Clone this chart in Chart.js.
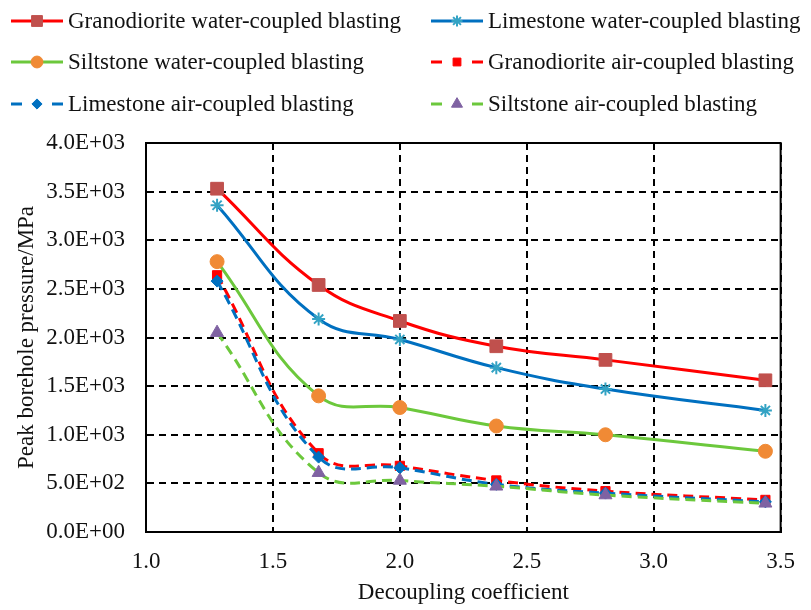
<!DOCTYPE html>
<html>
<head>
<meta charset="utf-8">
<script src="https://cdn.jsdelivr.net/npm/chart.js@4.4.1/dist/chart.umd.min.js"></script>
<style>
  body { margin: 0; background: #fff; }
  #wrap { width: 811px; height: 610px; }
</style>
</head>
<body>
<div id="wrap"><canvas id="myChart" width="811" height="610"></canvas></div>
<script>
// values
const decoupling = [1.28, 1.68, 2.0, 2.38, 2.81, 3.44];
const seriesNames = [
    'Granodiorite water-coupled blasting',
    'Limestone water-coupled blasting',
    'Siltstone water-coupled blasting',
    'Granodiorite air-coupled blasting',
    'Limestone air-coupled blasting',
    'Siltstone air-coupled blasting'
];
const granWater = [3530, 2540, 2170, 1910, 1770, 1560];
const limeWater = [3360, 2190, 1980, 1690, 1470, 1250];
const siltWater = [2780, 1400, 1280, 1090, 1000, 830];
const granAir = [2640, 810, 680, 530, 420, 330];
const limeAir = [2580, 770, 660, 490, 400, 310];
const siltAir = [2050, 610, 530, 470, 380, 295];
const yTicks = [0, 500, 1000, 1500, 2000, 2500, 3000, 3500, 4000];
const xTicks = [1.0, 1.5, 2.0, 2.5, 3.0, 3.5];

const FONT = "'Liberation Serif', 'Times New Roman', serif";

function sciLabel(v) {
    let parts = Number(v).toExponential(1).split('e');
    let n = parseInt(parts[1]);
    return parts[0] + 'E' + (n < 0 ? '-' : '+') + String(Math.abs(n)).padStart(2, '0');
}

function toPoints(ys) {
    return ys.map((y, i) => ({ x: decoupling[i], y: y }));
}

// style per series: line colour, dashed or not, marker
const styles = [
    { line: '#FF0000', dash: [], marker: 'rect', mColor: '#C0504D', mBorder: '#C0504D', r: 9, bw: 1 },
    { line: '#0070C0', dash: [], marker: 'star', mColor: '#33A3C4', mBorder: '#33A3C4', r: 6.5, bw: 2 },
    { line: '#6CC83C', dash: [], marker: 'circle', mColor: '#F08A35', mBorder: '#F08A35', r: 7, bw: 1 },
    { line: '#FF0000', dash: [10, 6], marker: 'rect', mColor: '#FF0000', mBorder: '#FF0000', r: 6.5, bw: 1 },
    { line: '#0070C0', dash: [10, 6], marker: 'rectRot', mColor: '#0070C0', mBorder: '#0070C0', r: 6, bw: 1 },
    { line: '#6CC83C', dash: [10, 6], marker: 'triangle', mColor: '#7F62A2', mBorder: '#7F62A2', r: 7.5, bw: 1 }
];
const allSeries = [granWater, limeWater, siltWater, granAir, limeAir, siltAir];

const datasets = allSeries.map((vals, i) => {
    let s = styles[i];
    return {
        label: seriesNames[i],
        data: toPoints(vals),
        borderColor: s.line,
        borderWidth: 3,
        borderDash: s.dash,
        tension: 0.42,
        fill: false,
        pointStyle: s.marker,
        pointRadius: s.r,
        pointBackgroundColor: s.mColor,
        pointBorderColor: s.mBorder,
        pointBorderWidth: s.bw,
        order: 6 - i
    };
});

// legend in two columns, like the original
const legendPlugin = {
    id: 'twoColLegend',
    afterDraw(chart) {
        const ctx = chart.ctx;
        const colX = [11, 431];
        const rowY = [21, 62, 104];
        ctx.save();
        chart.data.datasets.forEach((ds, i) => {
            let s = styles[i];
            let x0 = colX[i % 2];
            let y = rowY[Math.floor(i / 2)];
            ctx.strokeStyle = s.line;
            ctx.lineWidth = 3;
            ctx.setLineDash(s.dash.length ? [11, 30] : []);
            ctx.beginPath();
            ctx.moveTo(x0, y);
            ctx.lineTo(x0 + 52, y);
            ctx.stroke();
            ctx.setLineDash([]);
            ctx.fillStyle = s.mColor;
            ctx.strokeStyle = s.mBorder;
            ctx.lineWidth = s.bw;
            Chart.helpers.drawPoint(ctx, { pointStyle: s.marker, radius: s.r * 0.85, rotation: 0, borderWidth: s.bw }, x0 + 26, y);
            ctx.fillStyle = '#111';
            ctx.font = '23px ' + FONT;
            ctx.textAlign = 'left';
            ctx.textBaseline = 'middle';
            ctx.fillText(ds.label, x0 + 57, y + 1);
        });
        ctx.restore();
    }
};

// solid frame around the plot area
const framePlugin = {
    id: 'frame',
    beforeDatasetsDraw(chart) {
        const a = chart.chartArea;
        const ctx = chart.ctx;
        ctx.save();
        ctx.strokeStyle = '#000';
        ctx.lineWidth = 2;
        ctx.setLineDash([]);
        ctx.strokeRect(a.left, a.top, a.right - a.left, a.bottom - a.top);
        ctx.restore();
    }
};

const config = {
    type: 'line',
    data: { datasets: datasets },
    options: {
        responsive: false,
        animation: false,
        layout: { padding: { top: 143, right: 27, bottom: 0, left: 0 } },
        plugins: {
            legend: { display: false },
            tooltip: { enabled: false }
        },
        scales: {
            x: {
                type: 'linear',
                min: 1.0,
                max: 3.5,
                afterBuildTicks: scale => { scale.ticks = xTicks.map(v => ({ value: v })); },
                afterFit: scale => { scale.height = 78; },
                ticks: {
                    color: '#111',
                    font: { family: FONT, size: 23 },
                    padding: 16,
                    maxRotation: 0,
                    callback: v => Number(v).toFixed(1)
                },
                grid: { color: '#000', lineWidth: 2, drawTicks: false },
                border: { color: '#000', width: 2, dash: [7, 5] },
                title: {
                    display: true,
                    text: 'Decoupling coefficient',
                    color: '#111',
                    font: { family: FONT, size: 23 },
                    padding: { top: 0, bottom: 3 }
                }
            },
            y: {
                min: 0,
                max: 4000,
                afterBuildTicks: scale => { scale.ticks = yTicks.map(v => ({ value: v })); },
                afterFit: scale => { scale.width = 146; },
                ticks: {
                    color: '#111',
                    font: { family: FONT, size: 23 },
                    padding: 21,
                    callback: v => sciLabel(v)
                },
                grid: { color: '#000', lineWidth: 2, drawTicks: false },
                border: { color: '#000', width: 2, dash: [7, 5] },
                title: {
                    display: true,
                    text: 'Peak borehole pressure/MPa',
                    color: '#111',
                    font: { family: FONT, size: 23 },
                    padding: { top: 13, bottom: 0 }
                }
            }
        }
    },
    plugins: [framePlugin, legendPlugin]
};

const myChart = new Chart(document.getElementById('myChart').getContext('2d'), config);
</script>
</body>
</html>
